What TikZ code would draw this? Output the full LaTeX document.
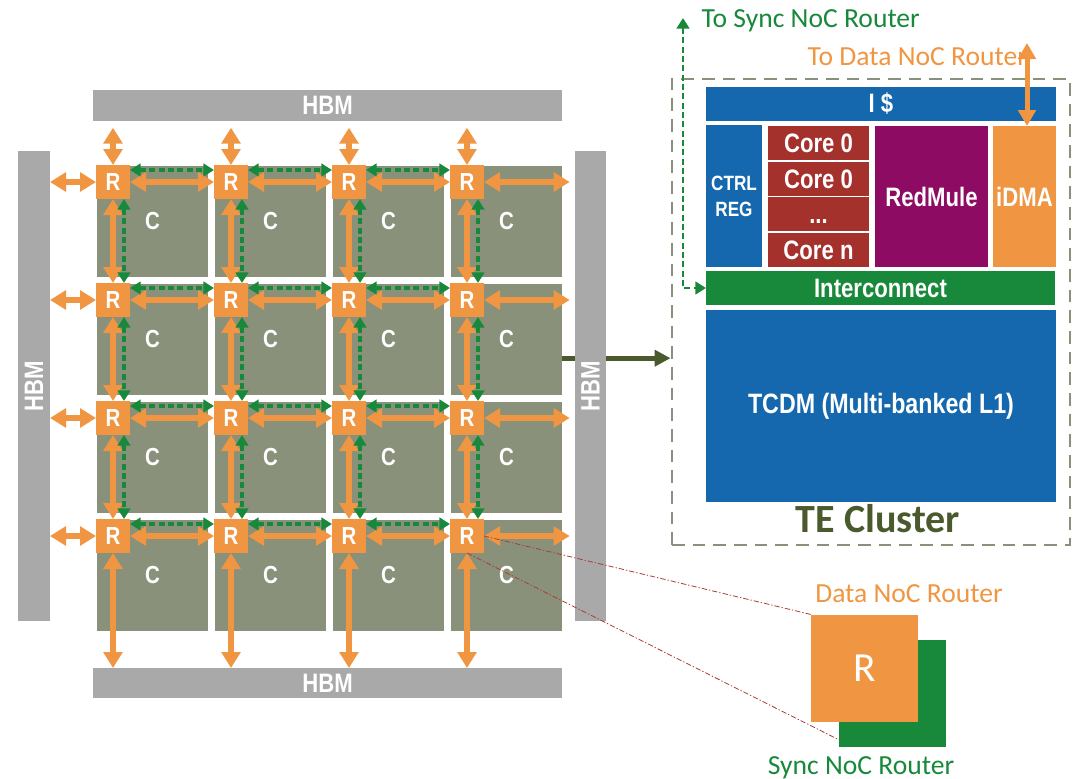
\documentclass[tikz,border=0pt]{standalone}
\usepackage{fontspec}
\setmainfont{Carlito}
\newfontfamily\narrowfont[FakeStretch=0.83]{Liberation Sans}
\usepackage{tikz}
\usetikzlibrary{arrows.meta,positioning}

\definecolor{nocorange}{RGB}{240,150,66}
\definecolor{syncgreen}{RGB}{24,137,58}
\definecolor{tilegray}{RGB}{138,145,122}
\definecolor{hbmgray}{RGB}{169,169,169}
\definecolor{blockblue}{RGB}{22,104,174}
\definecolor{corered}{RGB}{165,49,44}
\definecolor{mulepurple}{RGB}{142,11,99}
\definecolor{olivedark}{RGB}{74,90,44}
\definecolor{clusterdash}{RGB}{138,145,122}
\definecolor{linkred}{RGB}{170,60,55}

\begin{document}
\begin{tikzpicture}[
    x=0.75pt, y=-0.75pt,
    hbmbar/.style={fill=hbmgray, inner sep=0pt, outer sep=0pt, text=white, font=\narrowfont\bfseries\fontsize{20}{24}\selectfont},
    tilebox/.style={fill=tilegray, anchor=north west, minimum size=83.25pt, inner sep=0pt, outer sep=0pt, text=white, font=\narrowfont\bfseries\fontsize{18.5}{21}\selectfont},
    routerbox/.style={fill=nocorange, minimum size=25.5pt, inner sep=0pt, outer sep=0pt, text=white, font=\narrowfont\bfseries\fontsize{18.5}{21}\selectfont},
    datalink/.style={draw=nocorange, line width=4.5pt, {Triangle[width=14pt,length=12pt]}-{Triangle[width=14pt,length=12pt]}},
    synclink/.style={draw=syncgreen, line width=2.6pt, dash pattern=on 4.5pt off 2.5pt, {Triangle[width=9.5pt,length=8pt]}-{Triangle[width=9.5pt,length=8pt]}},
    block/.style={inner sep=0pt, outer sep=0pt, text=white, align=center, font=\narrowfont\bfseries\fontsize{20}{22}\selectfont},
    notelabel/.style={font=\fontsize{20.7}{24}\selectfont},
    zoomline/.style={draw=linkred, line width=0.6pt, dash pattern=on 4pt off 1.5pt on 1pt off 1.5pt}
]
\useasboundingbox (0,0) rectangle (1083,779);

% compute tiles
\foreach \i in {1,...,4}
  \foreach \j in {1,...,4}
    \node[tilebox] (c\i\j) at ({97+118*(\j-1)},{166+118*(\i-1)}) {C};

% TE cluster frame and the link to it
\node[draw=clusterdash, line width=2.2pt, dash pattern=on 9.5pt off 6pt, minimum width=298.5pt, minimum height=349.5pt, inner sep=0pt] (tecluster) at (871,312) {};
\draw[olivedark, line width=4pt, -{Triangle[width=12pt,length=12pt]}] ([yshift=-14pt]c24.east) coordinate (linkstart) -- (linkstart -| tecluster.west);

% HBM
\node[hbmbar, minimum width=351.75pt, minimum height=23.25pt] (hbmtop) at (327.5,105.5) {HBM};
\node[hbmbar, minimum width=351.75pt, minimum height=22.5pt] (hbmbot) at (327.5,683) {HBM};
\node[hbmbar, minimum width=24pt, minimum height=352.5pt] (hbmleft) at (34,386) {\rotatebox{90}{HBM}};
\node[hbmbar, minimum width=23.25pt, minimum height=352.5pt] (hbmright) at (590.5,386) {\rotatebox{90}{HBM}};

% routers
\foreach \i in {1,...,4}
  \foreach \j in {1,...,4}
    \node[routerbox] (r\i\j) at ([shift={(16,16)}]c\i\j.north west) {R};

\foreach \i in {1,...,4}
{
  \foreach \j/\k in {1/2,2/3,3/4}
  {
    \draw[datalink] (r\i\j.east) -- (r\i\k.west);
    \draw[synclink] ([yshift=9pt]r\i\j.east) -- ([yshift=9pt]r\i\k.west);
    \draw[datalink] (r\j\i.south) -- (r\k\i.north);
    \draw[synclink] ([xshift=8.25pt]r\j\i.south) -- ([xshift=8.25pt]r\k\i.north);
  }
  \draw[datalink, shorten >=5pt] (r1\i.north) -- (r1\i.north |- hbmtop.south);
  \draw[datalink] (r\i1.west) -- (r\i1.west -| hbmleft.east);
  \draw[datalink, shorten >=4pt] (r\i4.east) -- (r\i4.east -| hbmright.west);
  \draw[datalink] (r4\i.south) -- (r4\i.south |- hbmbot.north);
}

% cluster blocks
\node[block, fill=blockblue, minimum width=262.5pt, minimum height=25.5pt] (icache) at (881,104) {I \$};
\node[block, fill=blockblue, minimum width=42pt, minimum height=106.5pt, font=\narrowfont\bfseries\fontsize{15.5}{19.5}\selectfont] (ctrlreg) at (734,196) {CTRL\\REG};
\node[block, fill=corered, minimum width=75.75pt, minimum height=25.5pt] (core0a) at (818.5,143) {Core 0};
\node[block, fill=corered, minimum width=75.75pt, minimum height=25.5pt] (core0b) at (818.5,179) {Core 0};
\node[block, fill=corered, minimum width=75.75pt, minimum height=25.5pt] (coredots) at (818.5,214) {\vphantom{C}...};
\node[block, fill=corered, minimum width=75.75pt, minimum height=25.5pt] (coren) at (818.5,250) {Core n};
\node[block, fill=mulepurple, minimum width=84.75pt, minimum height=105.75pt] (redmule) at (931.5,196.5) {RedMule};
\node[block, fill=nocorange, minimum width=47.25pt, minimum height=105.75pt] (idma) at (1024.5,196.5) {iDMA};
\node[block, fill=syncgreen, minimum width=261.75pt, minimum height=25.5pt] (interconnect) at (880.5,288) {Interconnect};
\node[block, fill=blockblue, minimum width=262.5pt, minimum height=144pt, font=\narrowfont\bfseries\fontsize{21}{24}\selectfont] (tcdm) at (881,406) {TCDM (Multi-banked L1)};
\node[font=\bfseries\fontsize{30}{34}\selectfont, text=olivedark] (clustername) at (878,519) {TE Cluster};

% links out of the cluster
\coordinate (synctop) at (683,18);
\draw[synclink, line width=2.2pt] (synctop) |- (interconnect.west);
\node[notelabel, text=syncgreen, anchor=base west] (syncnote) at (697,27) {To Sync NoC Router};
\node[notelabel, text=nocorange, anchor=base west] (datanote) at (803,65) {To Data NoC Router};
\coordinate (datatop) at (1027,43);
\draw[datalink, line width=3.75pt, {Triangle[width=13pt,length=12pt]}-{Triangle[width=13pt,length=12pt]}] (datatop) -- (datatop |- idma.north);

% router close-up
\node[fill=syncgreen, minimum size=80.25pt, inner sep=0pt, outer sep=0pt] (syncbig) at (892.5,693) {};
\node[routerbox, minimum size=80.25pt, font=\fontsize{31}{34}\selectfont] (databig) at (864.5,668) {R};
\node[notelabel, text=nocorange, anchor=base] (datalabel) at (909,602) {Data NoC Router};
\node[notelabel, text=syncgreen, anchor=base] (synclabel) at (861,774) {Sync NoC Router};
\draw[zoomline] (r44.east) -- (databig.north west);
\draw[zoomline] (r44.south) -- ([yshift=5pt]syncbig.south west);
\end{tikzpicture}
\end{document}
